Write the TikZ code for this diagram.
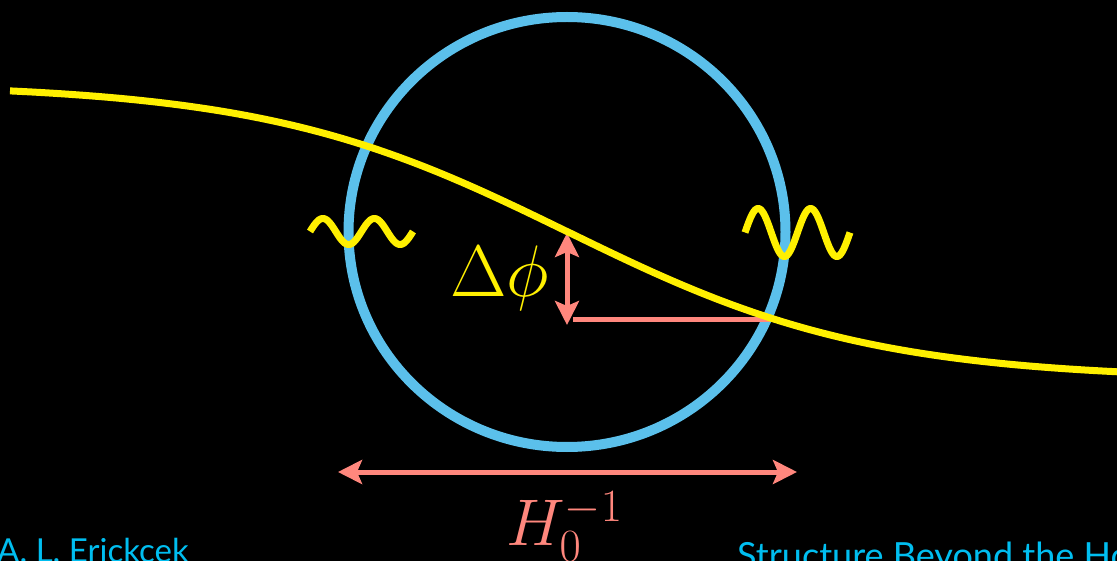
\RequirePackage{fix-cm}
\documentclass[tikz,border=0pt]{standalone}
\usepackage{fontspec}
\newfontfamily\slidefont{Lato}
\usetikzlibrary{arrows.meta}
\definecolor{horizonblue}{RGB}{91,192,235}
\definecolor{fieldyellow}{RGB}{255,240,0}
\definecolor{salmon}{RGB}{255,135,125}
\definecolor{titlecyan}{RGB}{0,190,240}
\tikzset{
  field/.style={fieldyellow,line width=7pt,line cap=butt,smooth},
  ruler/.style={salmon,line width=5pt},
  slidetext/.style={titlecyan,anchor=base west,inner sep=0pt,font=\slidefont\fontsize{33}{36}\selectfont}
}
\begin{document}
\begin{tikzpicture}[x=1pt,y=-1pt,line join=round,line cap=round,>={Stealth[length=24pt,width=24pt,inset=5pt]}]
			\def\cx{567} \def\cy{232}  % centre of the horizon
			\def\amp{148} \def\w{304}
			\fill[black] (0,0) rectangle (1117,561);
			\useasboundingbox (0,0) rectangle (1117,561);
			\coordinate (ctr) at (\cx,\cy);
			\draw[horizonblue,line width=10pt] (ctr) circle[x radius=218.5,y radius=215];
			% rulers
			\coordinate (dtop) at (567,233); \coordinate (dbot) at (567,325);
			\coordinate (hook) at (573,320); \coordinate (rim) at (770,320);
			\coordinate (hl) at (338,472); \coordinate (hr) at (797,472);
			\draw[ruler,<->] (dtop)--(dbot);
			\draw[ruler,line cap=butt] (hook)--(rim);
			\draw[ruler,<->] (hl)--(hr);
			% field and modes
			\draw[field,samples=300,domain=10:1117] plot(\x,{\cy-0.5+\amp*tanh((\x-\cx)/\w)});
			\draw[field,samples=120,domain=310:413] plot(\x,{231.5-13*sin(6.9903*(\x-310))});
			\draw[field,samples=120,domain=745:850] plot(\x,{232.5-24*sin(6.8571*(\x-745))});
			% labels
			\node[fieldyellow,anchor=base east,inner sep=0pt,font=\fontsize{73}{80}\selectfont] (dphi) at (549,297) {$\Delta\phi$};
			\node[salmon,anchor=base west,inner sep=0pt,font=\fontsize{66}{72}\selectfont] (hinv) at (506,545) {$H_0^{-1}$};
			\node[slidetext] (author) at (-3,562) {A. L. Erickcek};
			\node[slidetext,font=\slidefont\fontsize{36}{40}\selectfont] (title) at (737,568) {Structure Beyond the Horizon};
		\end{tikzpicture}
\end{document}
